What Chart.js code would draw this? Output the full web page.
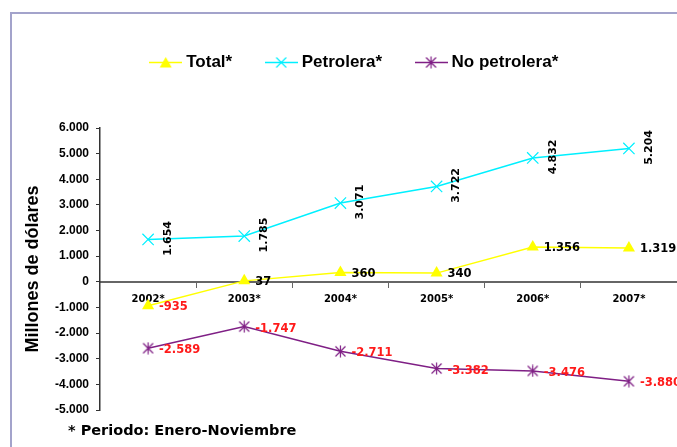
<!DOCTYPE html>
<html>
<head>
<meta charset="utf-8">
<script src="https://cdn.jsdelivr.net/npm/chart.js@4.4.1/dist/chart.umd.min.js"></script>
<style>
  html, body { margin:0; padding:0; background:#fff; overflow:hidden; }
  body { width:677px; height:447px; position:relative; }
  #frame { position:absolute; left:10px; top:12px; width:700px; height:470px;
           border-left:2px solid #a3a3cb; border-top:2px solid #a3a3cb; }
  #clip { position:absolute; left:0; top:0; width:677px; height:447px; overflow:hidden; }
  #wrap { position:absolute; left:0; top:0; width:677px; height:447px; }
  #note { position:absolute; left:68px; top:422px; font:bold 14.5px "DejaVu Sans", sans-serif; color:#000; white-space:nowrap; }
</style>
</head>
<body>
<div id="clip"><div id="frame"></div></div>
<div id="wrap"><canvas id="c"></canvas></div>
<div id="note">* Periodo: Enero-Noviembre</div>
<script>
/* ── Data ─────────────────────────────────────────────────── */
const YEARS        = ["2002*", "2003*", "2004*", "2005*", "2006*", "2007*"];
const TOTAL        = [-935, 37, 360, 340, 1356, 1319];
const PETROLERA    = [1654, 1785, 3071, 3722, 4832, 5204];
const NO_PETROLERA = [-2589, -1747, -2711, -3382, -3476, -3880];
const SERIES_NAMES = ["Total*", "Petrolera*", "No petrolera*"];
const Y_MIN = -5000, Y_MAX = 6000, Y_STEP = 1000;

const YELLOW = "#ffff00", CYAN = "#00f0ff", PURPLE = "#7f1f85";

// 1.234 style thousands separator
function fmt(v) {
  const s = Math.abs(v).toString().replace(/\B(?=(\d{3})+(?!\d))/g, ".");
  return (v < 0 ? "-" : "") + s;
}

/* ── Marker / legend icons ────────────────────────────────── */
function asterisk(ctx, cx, cy, r, color) {
  ctx.strokeStyle = color; ctx.lineWidth = 1.2;
  ctx.beginPath();
  ctx.moveTo(cx - r, cy - r); ctx.lineTo(cx + r, cy + r);
  ctx.moveTo(cx + r, cy - r); ctx.lineTo(cx - r, cy + r);
  ctx.moveTo(cx, cy - r - 1); ctx.lineTo(cx, cy + r + 1);
  ctx.stroke();
}
function cross(ctx, cx, cy, r, color) {
  ctx.strokeStyle = color; ctx.lineWidth = 1.2;
  ctx.beginPath();
  ctx.moveTo(cx - r, cy - r); ctx.lineTo(cx + r, cy + r);
  ctx.moveTo(cx + r, cy - r); ctx.lineTo(cx - r, cy + r);
  ctx.stroke();
}
function starPoint() {
  const cv = document.createElement("canvas");
  cv.width = 13; cv.height = 13;
  asterisk(cv.getContext("2d"), 6.5, 6.5, 5, PURPLE);
  return cv;
}
function legendIcon(kind, color) {
  const cv = document.createElement("canvas");
  cv.width = 33; cv.height = 15;
  const g = cv.getContext("2d");
  g.strokeStyle = color; g.lineWidth = 1.5;
  g.beginPath(); g.moveTo(0, 7.5); g.lineTo(33, 7.5); g.stroke();
  if (kind === "tri") {
    g.fillStyle = color;
    g.beginPath(); g.moveTo(16.5, 2); g.lineTo(22.5, 12.5); g.lineTo(10.5, 12.5); g.closePath(); g.fill();
  } else if (kind === "x") {
    cross(g, 16.5, 7.5, 5, color);
  } else {
    asterisk(g, 16.5, 7.5, 5, color);
  }
  return cv;
}
const ICONS = [legendIcon("tri", YELLOW), legendIcon("x", CYAN), legendIcon("ast", PURPLE)];

/* ── Plugins ──────────────────────────────────────────────── */
// keep the gap between legend and plot like the original
const legendSpacer = {
  id: "legendSpacer",
  beforeLayout(chart) {
    const lg = chart.legend;
    if (lg && !lg._patched) {
      const orig = lg.fit;
      lg.fit = function () { orig.call(this); this.height = 111; };
      lg._patched = true;
    }
  },
};

// value labels next to each point
const pointLabels = {
  id: "pointLabels",
  afterDatasetsDraw(chart) {
    const ctx = chart.ctx;
    ctx.save();
    chart.data.datasets.forEach((ds, i) => {
      chart.getDatasetMeta(i).data.forEach((pt, j) => {
        const v = ds.data[j];
        if (i === 1) {
          ctx.save();
          ctx.translate(pt.x + 20, pt.y - 1);
          ctx.rotate(-Math.PI / 2);
          ctx.font = "bold 11px 'DejaVu Sans'";
          ctx.fillStyle = "#000";
          ctx.textAlign = "center"; ctx.textBaseline = "middle";
          ctx.fillText(fmt(v), 0, 0);
          ctx.restore();
        } else {
          ctx.font = "bold 11.5px 'DejaVu Sans'";
          ctx.fillStyle = (i === 2 || v < 0) ? "#ff1a1a" : "#000";
          ctx.textAlign = "left"; ctx.textBaseline = "middle";
          ctx.fillText(fmt(v), pt.x + 11, pt.y + (i === 2 ? 2 : 1));
        }
      });
    });
    ctx.restore();
  },
};

/* ── Chart ────────────────────────────────────────────────── */
new Chart(document.getElementById("c"), {
  type: "line",
  data: {
    labels: YEARS,
    datasets: [
      { label: SERIES_NAMES[0], data: TOTAL, borderColor: YELLOW, backgroundColor: YELLOW,
        borderWidth: 1.5, pointStyle: "triangle", pointRadius: 7, pointBorderWidth: 0, tension: 0 },
      { label: SERIES_NAMES[1], data: PETROLERA, borderColor: CYAN, backgroundColor: CYAN,
        borderWidth: 1.5, pointStyle: "crossRot", pointRadius: 8, pointBorderWidth: 1.2, tension: 0 },
      { label: SERIES_NAMES[2], data: NO_PETROLERA, borderColor: PURPLE, backgroundColor: PURPLE,
        borderWidth: 1.5, pointStyle: starPoint(), pointRadius: 6, tension: 0 },
    ],
  },
  options: {
    responsive: true,
    maintainAspectRatio: false,
    animation: false,
    layout: { autoPadding: false, padding: { left: 35, right: 0, top: 17, bottom: 37 } },
    plugins: {
      tooltip: { enabled: false },
      legend: {
        display: true,
        position: "top",
        labels: {
          usePointStyle: true,
          pointStyleWidth: 24,
          boxHeight: 15,
          padding: 37,
          color: "#000",
          font: { family: "'Liberation Sans', Arial", size: 17, weight: "bold" },
          generateLabels(chart) {
            const items = Chart.defaults.plugins.legend.labels.generateLabels(chart);
            items.forEach((it, k) => { it.pointStyle = ICONS[k]; });
            return items;
          },
        },
      },
    },
    scales: {
      x: {
        position: { y: 0 },
        offset: true,
        afterFit(s) { s.paddingLeft = 0; s.paddingRight = 0; },
        grid: { drawOnChartArea: false, offset: true, tickLength: 5, color: "#666", lineWidth: 1 },
        border: { color: "#666", width: 2 },
        ticks: { color: "#000", padding: 7, maxRotation: 0,
                 font: { family: "'DejaVu Sans'", size: 10, weight: "bold" } },
      },
      y: {
        min: Y_MIN, max: Y_MAX,
        afterFit(s) { s.width = 65; },
        grid: { drawOnChartArea: false, tickLength: 4, color: "#333" },
        border: { color: "#333", width: 1.5 },
        ticks: { stepSize: Y_STEP, color: "#000", padding: 7, callback: v => fmt(v),
                 font: { family: "'Liberation Sans', Arial", size: 12, weight: "bold" } },
        title: { display: true, text: "Millones de dólares", color: "#000",
                 padding: { top: -13, bottom: 0 },
                 font: { family: "'Liberation Sans', Arial", size: 18, weight: "bold" } },
      },
    },
  },
  plugins: [legendSpacer, pointLabels],
});
</script>
</body>
</html>
